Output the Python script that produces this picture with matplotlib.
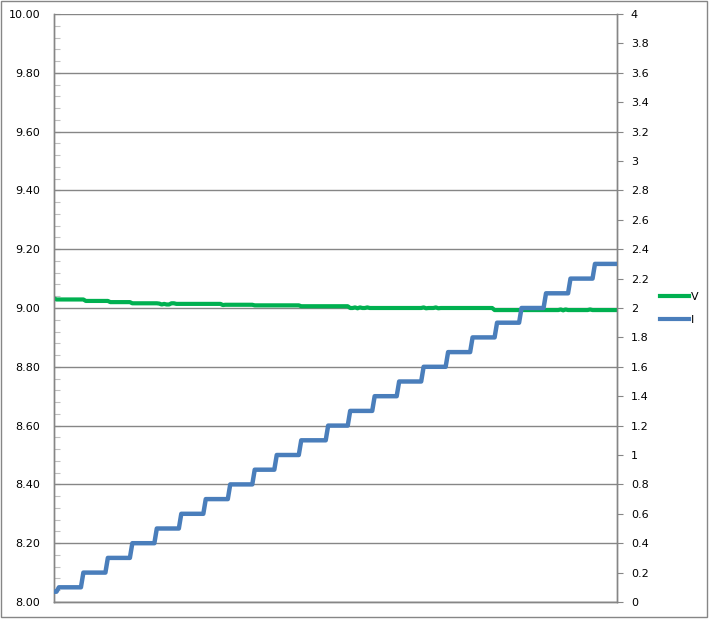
import matplotlib
matplotlib.use("Agg")
import matplotlib.pyplot as plt
import numpy as np
from matplotlib.ticker import MultipleLocator, FuncFormatter
from matplotlib.patches import Rectangle
from matplotlib.lines import Line2D

# ---- data ----
# Current I (A): step levels and number of samples spent on each level
i_levels = [0.07, 0.1, 0.2, 0.3, 0.4, 0.5, 0.6, 0.7, 0.8, 0.9, 1.0, 1.1,
            1.2, 1.3, 1.4, 1.5, 1.6, 1.7, 1.8, 1.9, 2.0, 2.1, 2.2, 2.3]
i_counts = [2, 10, 10, 10, 10, 10, 10, 10, 10, 9, 10, 11,
            9, 10, 10, 10, 10, 10, 10, 10, 10, 10, 10, 10]

# Voltage V: run-length values and sample counts
v_levels = [9.033, 9.029, 9.024, 9.020, 9.016,
            9.015, 9.012, 9.014, 9.012, 9.016, 9.014,
            9.014, 9.010, 9.011, 9.009, 9.006,
            9.000, 9.002, 8.999, 9.002, 9.000, 9.002, 9.000, 9.002, 8.999,
            9.000, 9.002, 8.999, 9.000,
            8.993, 8.995, 8.992, 8.995, 8.993, 8.995, 8.993]
v_counts = [1, 12, 10, 9, 11,
            1, 1, 1, 2, 2, 1,
            18, 1, 12, 19, 20,
            2, 1, 1, 1, 2, 1, 22, 1, 1,
            3, 1, 1, 22,
            27, 1, 1, 1, 9, 1, 11]

left_ticks = [8.0, 8.2, 8.4, 8.6, 8.8, 9.0, 9.2, 9.4, 9.6, 9.8, 10.0]
right_ticks = [0, 0.2, 0.4, 0.6, 0.8, 1, 1.2, 1.4, 1.6, 1.8, 2, 2.2, 2.4,
               2.6, 2.8, 3, 3.2, 3.4, 3.6, 3.8, 4]

I = np.repeat(i_levels, i_counts)
V = np.repeat(v_levels, v_counts)
t = np.arange(len(I))

GRID = "#868686"
GREEN = "#00B050"
BLUE = "#4A7EBB"

plt.rcParams["font.family"] = ["DejaVu Sans"]

W, H = 712, 619
fig = plt.figure(figsize=(W / 100, H / 100), dpi=100)
ax = fig.add_axes([54 / W, (H - 602) / H, (617 - 54) / W, (602 - 14) / H])
ax2 = ax.twinx()

ax.plot(t, V, color=GREEN, lw=3, solid_joinstyle="round", zorder=3)
ax2.plot(t, I, color=BLUE, lw=3.2, solid_joinstyle="round", zorder=3)

ax.set_xlim(0, len(t) - 1)
ax.set_ylim(8.0, 10.0)
ax2.set_ylim(0, 4)

ax.set_yticks(left_ticks)
ax.yaxis.set_minor_locator(MultipleLocator(0.04))
ax.yaxis.set_major_formatter(FuncFormatter(lambda v, p: f"{v:.2f}"))
ax2.set_yticks(right_ticks)
ax2.yaxis.set_major_formatter(FuncFormatter(lambda v, p: f"{round(v, 1):g}"))

ax.set_xticks([])
ax.grid(axis="y", color=GRID, lw=1.0)
ax.set_axisbelow(True)

ax.tick_params(axis="y", which="major", direction="in", length=4, width=0.8,
               color=GRID, pad=10, labelsize=8, labelcolor="black")
ax.tick_params(axis="y", which="minor", direction="in", length=4, width=0.8,
               color="#c0c0c0")
ax2.tick_params(axis="y", which="major", direction="out", length=4, width=0.8,
                color=GRID, pad=6, labelsize=8, labelcolor="black")

for a in (ax, ax2):
    for s in a.spines.values():
        s.set_color(GRID)
        s.set_linewidth(1.0)
    a.spines["top"].set_visible(False)

handles = [Line2D([], [], color=GREEN, lw=3), Line2D([], [], color=BLUE, lw=3)]
fig.legend(handles, ["V", "I"], loc="upper left",
           bbox_to_anchor=(660 / W, 1 - 292 / H), frameon=False,
           fontsize=8, handlelength=2.6, handletextpad=0.2,
           labelspacing=1.2, borderpad=0, borderaxespad=0)

fig.patches.append(Rectangle((1 / W, 2 / H), 706 / W, 616 / H,
                             transform=fig.transFigure, fill=False,
                             edgecolor=GRID, lw=1.0))

fig.savefig("out.png", dpi=100, facecolor="white")
